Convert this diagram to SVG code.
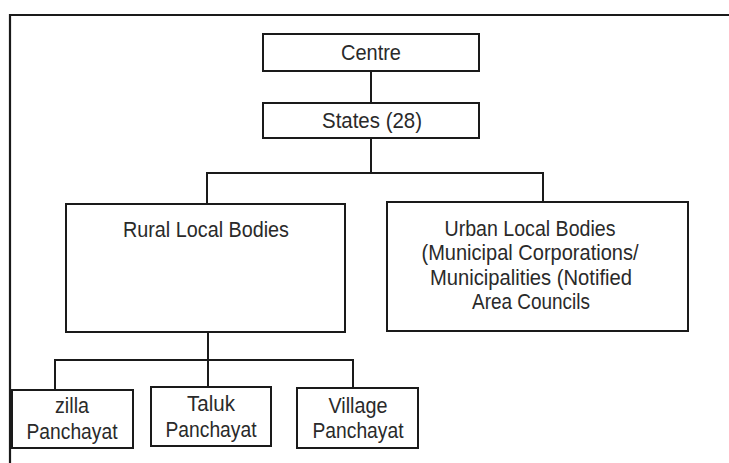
<svg xmlns="http://www.w3.org/2000/svg" width="729" height="463" viewBox="0 0 729 463">
  <style>
    .box { fill: #ffffff; stroke: #1a1a1a; stroke-width: 2; }
    .wire { fill: none; stroke: #1a1a1a; stroke-width: 2; }
    .frame { fill: none; stroke: #1a1a1a; stroke-width: 2.2; }
    text { font-family: "Liberation Sans", Arial, sans-serif; font-size: 21.5px; fill: #2a2a2a; text-anchor: middle; }
  </style>
  <rect width="729" height="463" fill="#ffffff"/>

  <!-- outer frame (top and left edges) -->
  <path class="frame" d="M10,463 V15 H729"/>

  <!-- connectors -->
  <g id="connectors">
    <path class="wire" d="M371,71 V103"/>
    <path class="wire" d="M371,138 V173"/>
    <path class="wire" d="M207,204 V173 H543 V202"/>
    <path class="wire" d="M208,332 V387"/>
    <path class="wire" d="M55,390 V360 H353 V388"/>
  </g>

  <g id="centre">
    <rect class="box" x="263" y="34" width="216" height="37"/>
    <text x="371" y="60" textLength="60" lengthAdjust="spacingAndGlyphs">Centre</text>
  </g>

  <g id="states">
    <rect class="box" x="263" y="103" width="216" height="35"/>
    <text x="372" y="128" textLength="100" lengthAdjust="spacingAndGlyphs">States (28)</text>
  </g>

  <g id="rural">
    <rect class="box" x="66" y="204" width="279" height="128"/>
    <text x="206" y="237" textLength="166" lengthAdjust="spacingAndGlyphs">Rural Local Bodies</text>
  </g>

  <g id="urban">
    <rect class="box" x="387" y="202" width="301" height="129"/>
    <text x="530" y="236" textLength="171" lengthAdjust="spacingAndGlyphs">Urban Local Bodies</text>
    <text x="530" y="260" textLength="217" lengthAdjust="spacingAndGlyphs">(Municipal Corporations/</text>
    <text x="531" y="285" textLength="202" lengthAdjust="spacingAndGlyphs">Municipalities (Notified</text>
    <text x="531" y="309" textLength="118" lengthAdjust="spacingAndGlyphs">Area Councils</text>
  </g>

  <g id="zilla">
    <rect class="box" x="12" y="390" width="121" height="58"/>
    <text x="72" y="413" textLength="34" lengthAdjust="spacingAndGlyphs">zilla</text>
    <text x="72" y="439" textLength="91" lengthAdjust="spacingAndGlyphs">Panchayat</text>
  </g>

  <g id="taluk">
    <rect class="box" x="151" y="387" width="120" height="59"/>
    <text x="211" y="411" textLength="48" lengthAdjust="spacingAndGlyphs">Taluk</text>
    <text x="211" y="437" textLength="91" lengthAdjust="spacingAndGlyphs">Panchayat</text>
  </g>

  <g id="village">
    <rect class="box" x="297" y="388" width="121" height="60"/>
    <text x="358" y="413" textLength="59" lengthAdjust="spacingAndGlyphs">Village</text>
    <text x="358" y="438" textLength="91" lengthAdjust="spacingAndGlyphs">Panchayat</text>
  </g>
</svg>
